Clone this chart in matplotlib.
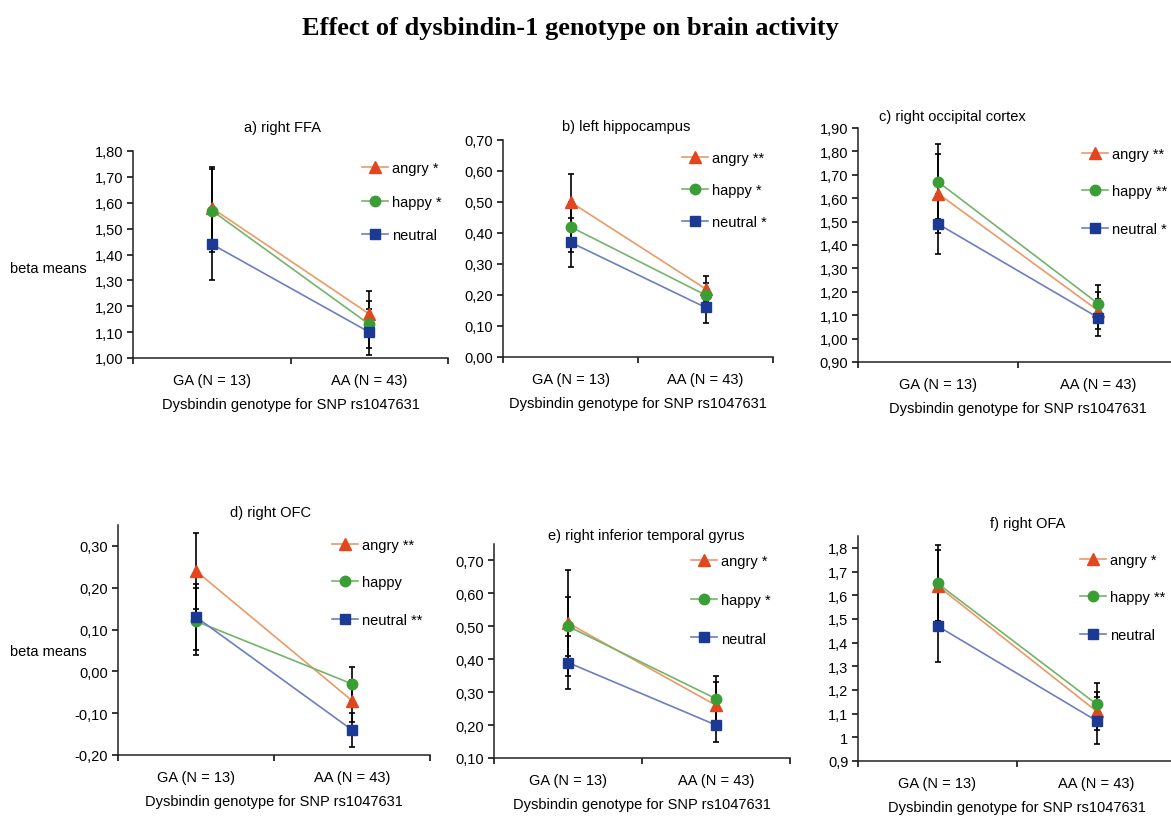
import matplotlib
matplotlib.use('Agg')
import matplotlib.pyplot as plt
from matplotlib.ticker import FuncFormatter

plt.rcParams['font.family'] = ['Liberation Sans', 'DejaVu Sans']

genotypes = ['GA (N = 13)', 'AA (N = 43)']
emotions = ['angry', 'happy', 'neutral']

titles = ['a) right FFA', 'b) left hippocampus', 'c) right occipital cortex',
          'd) right OFC', 'e) right inferior temporal gyrus', 'f) right OFA']

# means per emotion (angry, happy, neutral) for GA, AA
ffa_means = [[1.58, 1.17], [1.57, 1.13], [1.44, 1.10]]
ffa_err = [[0.16, 0.09], [0.16, 0.09], [0.14, 0.09]]
hip_means = [[0.50, 0.22], [0.42, 0.20], [0.37, 0.16]]
hip_err = [[0.09, 0.04], [0.08, 0.04], [0.08, 0.05]]
occ_means = [[1.62, 1.12], [1.67, 1.15], [1.49, 1.09]]
occ_err = [[0.17, 0.08], [0.16, 0.08], [0.13, 0.08]]
ofc_means = [[0.24, -0.07], [0.12, -0.03], [0.13, -0.14]]
ofc_err = [[0.09, 0.05], [0.08, 0.04], [0.08, 0.04]]
itg_means = [[0.51, 0.26], [0.50, 0.28], [0.39, 0.20]]
itg_err = [[0.16, 0.07], [0.09, 0.07], [0.08, 0.05]]
ofa_means = [[1.64, 1.11], [1.65, 1.14], [1.47, 1.07]]
ofa_err = [[0.15, 0.08], [0.16, 0.09], [0.15, 0.10]]

legend_labels = [
    ['angry *', 'happy *', 'neutral'],
    ['angry **', 'happy *', 'neutral *'],
    ['angry **', 'happy **', 'neutral *'],
    ['angry **', 'happy', 'neutral **'],
    ['angry *', 'happy *', 'neutral'],
    ['angry *', 'happy **', 'neutral'],
]

all_means = [ffa_means, hip_means, occ_means, ofc_means, itg_means, ofa_means]
all_err = [ffa_err, hip_err, occ_err, ofc_err, itg_err, ofa_err]

# y axis settings: (ylim bottom, ylim top, tick start, tick stop, decimals)
yaxes = [(1.0, 1.8, 1.0, 1.8, 2), (0.0, 0.7, 0.0, 0.7, 2), (0.9, 1.9, 0.9, 1.9, 2),
         (-0.2, 0.35, -0.2, 0.3, 2), (0.1, 0.75, 0.1, 0.7, 2), (0.9, 1.85, 0.9, 1.8, None)]

marker_colors = ['#E2461E', '#3A9E34', '#1B3A94']
line_colors = ['#EC9966', '#74B46A', '#6D7DC2']
markers = ['^', 'o', 's']
msizes = [8, 7.5, 7.5]

W, H = 1171, 820
fig = plt.figure(figsize=(W / 100, H / 100), dpi=100)

# axes boxes in pixels: left, right, top, bottom
boxes = [(133, 448, 152, 359), (503, 773, 141, 358), (858, 1178, 129, 363),
         (118, 430, 526, 756), (494, 790, 545, 759), (858, 1176, 537, 762)]
title_pos = [(283, 128), (626, 127), (952, 117), (270, 513), (646, 536), (1028, 524)]
legend_pos = [(362, 162), (682, 152), (1082, 148), (332, 539), (691, 555), (1080, 554)]
legend_space = [1.35, 1.25, 1.6, 1.6, 1.7, 1.6]

fs = 10.5
x = [0.5, 1.5]

for i in range(6):
    l, r, t, b = boxes[i]
    ax = fig.add_axes([l / W, 1 - b / H, (r - l) / W, (b - t) / H])
    means = all_means[i]
    errs = all_err[i]
    for k in range(3):
        ax.errorbar(x, means[k], yerr=errs[k], fmt='none', ecolor='black',
                    elinewidth=1.2, capsize=2.5, capthick=1.2, zorder=2)
    for k in range(3):
        ax.plot(x, means[k], color=line_colors[k], lw=1.2, marker=markers[k],
                ms=msizes[k], mfc=marker_colors[k], mec=marker_colors[k],
                label=legend_labels[i][k], zorder=3)

    y0, y1, t0, t1, dec = yaxes[i]
    ax.set_ylim(y0, y1)
    n = int(round((t1 - t0) / 0.1))
    ax.set_yticks([round(t0 + 0.1 * j, 2) for j in range(n + 1)])
    if dec is None:
        ax.yaxis.set_major_formatter(FuncFormatter(lambda v, p: ('%g' % round(v, 2)).replace('.', ',')))
    else:
        ax.yaxis.set_major_formatter(FuncFormatter(lambda v, p: ('%.2f' % v).replace('.', ',').replace('-0,00', '0,00')))
    ax.tick_params(axis='y', labelsize=fs, length=4, width=1.1, pad=3)

    ax.set_xlim(0, 2)
    ax.set_xticks([0, 1, 2])
    ax.set_xticklabels(['', '', ''])
    ax.set_xticks(x, minor=True)
    ax.set_xticklabels(genotypes, minor=True)
    ax.tick_params(axis='x', which='major', length=4, width=1.1)
    ax.tick_params(axis='x', which='minor', length=0, labelsize=fs, pad=11)
    ax.set_xlabel('Dysbindin genotype for SNP rs1047631', fontsize=fs, labelpad=7)

    for s in ['top', 'right']:
        ax.spines[s].set_visible(False)
    for s in ['left', 'bottom']:
        ax.spines[s].set_linewidth(1.1)
        ax.spines[s].set_color('#222222')

    lx, ly = legend_pos[i]
    ax.legend(loc='upper left', bbox_to_anchor=(lx / W, 1 - ly / H),
              bbox_transform=fig.transFigure, frameon=False, fontsize=fs,
              borderpad=0, borderaxespad=0, handlelength=1.8, handletextpad=0.25,
              labelspacing=legend_space[i])

    tx, ty = title_pos[i]
    fig.text(tx / W, 1 - ty / H, titles[i], ha='center', va='center', fontsize=fs)

fig.text(10 / W, 1 - 269 / H, 'beta means', ha='left', va='center', fontsize=fs)
fig.text(10 / W, 1 - 652 / H, 'beta means', ha='left', va='center', fontsize=fs)

fig.text(570 / W, 1 - 28 / H, 'Effect of dysbindin-1 genotype on brain activity',
         ha='center', va='center', fontsize=19, fontweight='bold',
         family=['Liberation Serif', 'DejaVu Serif'])

fig.savefig('out.png', dpi=100)
